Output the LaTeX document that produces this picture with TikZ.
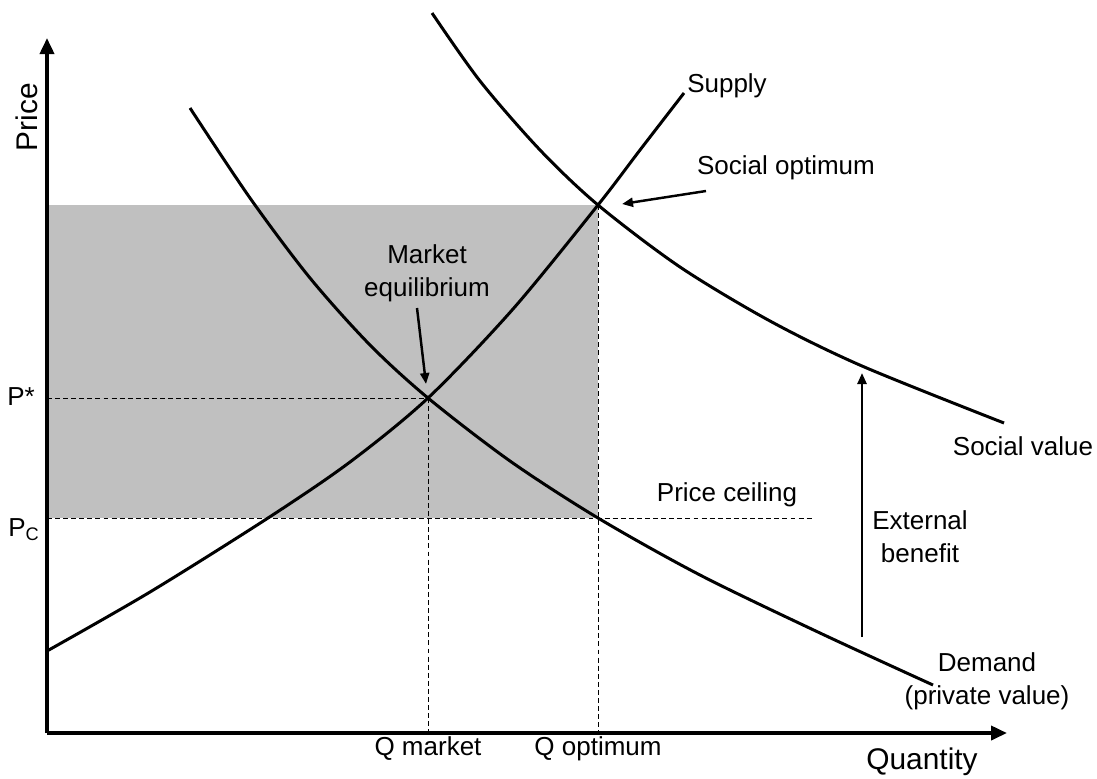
\documentclass[tikz,border=0pt]{standalone}
\usepackage{amsmath,amsfonts,amssymb}
\usepackage{fontspec}
\setmainfont{Liberation Sans}
\usetikzlibrary{arrows.meta}

\begin{document}
\begin{tikzpicture}[x=0.02cm, y=-0.02cm,
		label_style/.style={font=\fontsize{14.8}{18.7}\selectfont, align=center, inner sep=0pt},
		axis_label/.style={font=\fontsize{17}{20}\selectfont, inner sep=0pt},
		axis_style/.style={draw=black, line width=2.1pt, -{Triangle[length=0.32cm,width=0.28cm]}},
		curve_style/.style={draw=black, line width=1.7pt},
		guide_style/.style={draw=black, line width=0.55pt, dash pattern=on 2.8pt off 1.8pt},
		pointer_style/.style={draw=black, line width=1.4pt, -{Triangle[length=0.22cm,width=0.18cm]}},
		shade_style/.style={fill={rgb,255:red,192;green,192;blue,192}}]

		\useasboundingbox (0,0) rectangle (1097,778);

		\coordinate (o) at (47,733);
		\coordinate (ytop) at (47,38);
		\coordinate (xend) at (1007,733);
		\coordinate (eq) at (428,398);
		\coordinate (opt) at (598,205);
		\coordinate (ceil) at (598,518);
		\coordinate (ptop) at (47,205);
		\coordinate (pstar) at (47,398);
		\coordinate (pc) at (47,518);
		\coordinate (ceilend) at (813,518);
		\coordinate (qm) at (428,733);
		\coordinate (qo) at (598,733);

		% shaded area
		\fill[shade_style] (ptop) rectangle (ceil);

		% guides
		\draw[guide_style] (pstar) -- (eq);
		\draw[guide_style] (pc) -- (ceilend);
		\draw[guide_style] (eq) -- (qm);
		\draw[guide_style] (opt) -- (qo);

		% axes
		\draw[axis_style] (o) -- (ytop);
		\draw[axis_style] (o) -- (xend);

		% supply, demand, social value
		\draw[curve_style] plot[smooth, tension=0.5] coordinates {(47,651) (150,592) (268,518) (350,462) (eq) (513,309) (opt) (640,150) (684,93)};
		\draw[curve_style] plot[smooth, tension=0.5] coordinates {(190,108) (250,198) (310,278) (370,345) (eq) (510,461) (ceil) (700,575) (820,633) (933,685)};
		\draw[curve_style] plot[smooth, tension=0.5] coordinates {(432,13) (480,81) (540,150) (opt) (680,267) (770,321) (862,366) (1004,423)};

		% labels
		\node[axis_label, rotate=90] (price) at (27,117) {Price};
		\node[axis_label] (quantity) at (922,762) {Quantity};
		\node[label_style] (pstarlab) at (21,397) {P*};
		\node[label_style] (pclab) at (24,530) {P$_{\text{C}}$};
		\node[label_style] (qmlab) at (428,749) {Q market};
		\node[label_style] (qolab) at (598,749) {Q optimum};
		\node[label_style] (supply) at (727,86) {Supply};
		\node[label_style] (social) at (786,168) {Social optimum};
		\node[label_style] (market) at (427,273) {Market\\equilibrium};
		\node[label_style] (ceiling) at (727,495) {Price ceiling};
		\node[label_style] (value) at (1023,446) {Social value};
		\node[label_style] (external) at (920,537) {External\\benefit};
		\node[label_style] (demand) at (987,681) {Demand\\(private value)};

		% pointers
		\coordinate (eqfrom) at (417,308);
		\coordinate (eqtip) at (426,384);
		\coordinate (optfrom) at (706,191);
		\coordinate (opttip) at (622,204);
		\coordinate (extfrom) at (862,637);
		\coordinate (exttip) at (862,373);
		\draw[pointer_style] (eqfrom) -- (eqtip);
		\draw[pointer_style] (optfrom) -- (opttip);
		\draw[pointer_style] (extfrom) -- (exttip);

\end{tikzpicture}
\end{document}
